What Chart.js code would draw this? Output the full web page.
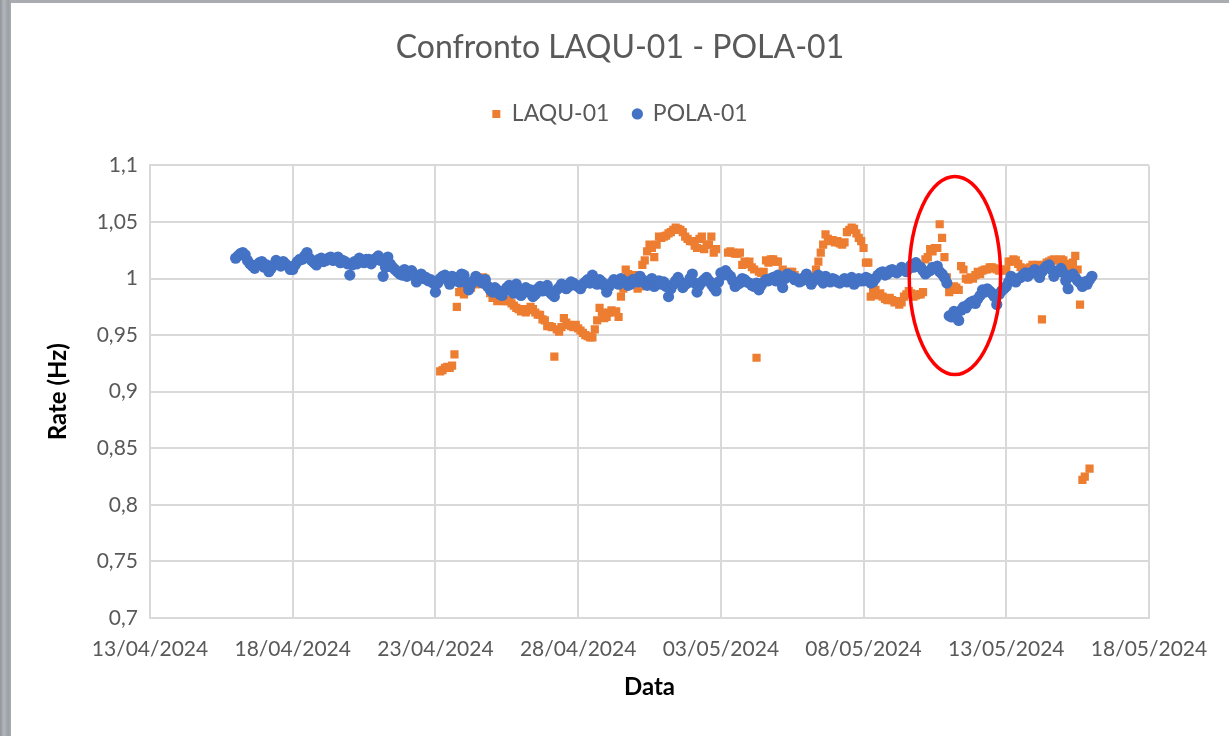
<!DOCTYPE html>
<html>
<head>
<meta charset="utf-8">
<title>Confronto LAQU-01 - POLA-01</title>
<script src="https://cdn.jsdelivr.net/npm/chart.js@4.4.1/dist/chart.umd.min.js"></script>
<style>
  html, body { margin: 0; padding: 0; }
  body {
    width: 1229px; height: 736px; overflow: hidden; position: relative;
    background: linear-gradient(90deg, #8f959b 0px, #b3b7bb 4px, #9aa0a5 8px, #a9adb1 11px);
  }
  #card { position: absolute; left: 11px; top: 3px; width: 1218px; height: 733px; background: #fff; }
</style>
</head>
<body>
<div id="card"><canvas id="chart" width="1218" height="733"></canvas></div>
<script>
// x axis = days since 13/04/2024 00:00
const xMin = 0;
const xMax = 35;
const xStep = 5;
const yMin = 0.7;
const yMax = 1.1;
const yStep = 0.05;

// one sample every 2 hours
const sampleHours = 2;

// POLA-01, from 16/04/2024 00:00 (one row per day)
const polaStartDay = 3;
const polaValues = [
  1.018, 1.020, 1.022, 1.023, 1.021, 1.016, 1.013, 1.011, 1.009, 1.012, 1.014, 1.015,
  1.010, 1.012, 1.006, 1.009, 1.012, 1.016, 1.014, 1.011, 1.015, 1.013, 1.011, 1.008,
  1.008, 1.012, 1.015, 1.017, 1.017, 1.020, 1.023, 1.018, 1.016, 1.014, 1.012, 1.017,
  1.018, 1.015, 1.016, 1.018, 1.019, 1.016, 1.017, 1.019, 1.014, 1.016, 1.015, 1.013,
  1.003, 1.012, 1.015, 1.013, 1.018, 1.016, 1.014, 1.017, 1.017, 1.013, 1.016, 1.018,
  1.020, 1.016, 1.002, 1.010, 1.019, 1.013, 1.010, 1.008, 1.006, 1.004, 1.003, 1.008,
  1.002, 1.005, 1.007, 1.003, 0.997, 1.001, 1.004, 1.000, 1.001, 0.998, 0.999, 0.996,
  0.988, 0.996, 1.000, 1.002, 1.003, 0.999, 0.995, 1.002, 1.001, 0.998, 0.997, 1.004,
  1.003, 0.996, 0.990, 0.995, 0.998, 1.002, 1.000, 0.997, 0.996, 0.999, 0.993, 0.990,
  0.988, 0.992, 0.990, 0.986, 0.985, 0.989, 0.992, 0.994, 0.989, 0.987, 0.995, 0.991,
  0.985, 0.989, 0.992, 0.988, 0.990, 0.984, 0.986, 0.991, 0.993, 0.989, 0.990, 0.994,
  0.988, 0.986, 0.984, 0.990, 0.992, 0.995, 0.994, 0.991, 0.993, 0.997, 0.996, 0.994,
  0.993, 0.991, 0.995, 0.997, 0.999, 0.996, 1.003, 0.998, 0.995, 0.999, 0.997, 0.994,
  0.988, 0.993, 0.996, 0.999, 0.998, 0.995, 1.000, 0.998, 0.997, 0.994, 0.995, 0.999,
  0.999, 0.997, 1.002, 0.999, 0.996, 0.994, 0.998, 1.000, 0.993, 0.996, 0.998, 0.995,
  0.997, 0.993, 0.984, 0.991, 0.995, 0.998, 1.001, 0.997, 0.992, 0.995, 0.996, 1.000,
  1.004, 0.996, 0.988, 0.994, 0.997, 0.999, 1.001, 0.998, 0.995, 0.992, 0.989, 0.997,
  1.005, 1.003, 1.007, 1.004, 1.002, 0.998, 0.993, 0.995, 0.996, 1.000, 0.999, 0.997,
  0.996, 0.994, 0.993, 0.996, 0.990, 0.994, 0.997, 0.999, 0.998, 1.000, 1.001, 0.998,
  1.003, 0.997, 0.992, 1.000, 1.004, 1.002, 1.002, 0.999, 1.000, 0.997, 0.998, 1.001,
  1.004, 0.999, 0.995, 0.998, 1.001, 1.003, 0.999, 0.996, 1.002, 0.999, 0.997, 1.000,
  0.999, 0.997, 0.996, 0.998, 1.000, 0.997, 0.998, 1.001, 0.995, 0.997, 1.000, 0.998,
  0.998, 1.001, 1.000, 0.996, 0.997, 1.000, 1.003, 1.005, 1.006, 1.003, 1.004, 1.007,
  1.008, 1.006, 1.005, 1.007, 1.010, 1.008, 1.006, 1.009, 1.012, 1.010, 1.014, 1.011,
  1.010, 1.007, 1.004, 1.006, 1.007, 1.010, 1.009, 1.011, 1.006, 1.004, 1.001, 0.996,
  0.967, 0.966, 0.971, 0.969, 0.963, 0.972, 0.975, 0.974, 0.977, 0.979, 0.980, 0.978,
  0.982, 0.985, 0.990, 0.988, 0.991, 0.989, 0.987, 0.984, 0.977, 0.986, 0.989, 0.991,
  0.993, 0.997, 1.002, 0.999, 0.997, 1.000, 1.001, 1.003, 1.005, 1.002, 1.004, 1.006,
  1.008, 1.005, 1.001, 1.006, 1.009, 1.011, 1.012, 1.008, 1.002, 1.005, 1.007, 1.009,
  1.005, 0.998, 0.991, 1.002, 1.004, 1.001, 0.998, 0.996, 0.993, 0.997, 0.995, 0.999,
  1.002
];

// LAQU-01, from 23/04/2024 04:00 (null = no sample)
const laquStartDay = 10 + 4 / 24;
const laquValues = [
  0.918, 0.919, 0.921, 0.922, 0.921, 0.923, 0.933, 0.975, 0.988, 0.990,
  0.986, 0.989, 0.997, 0.992, 0.998, 0.995, 0.995, 0.998, 1.001, 1.000, 0.993, 0.987,
  0.983, 0.985, 0.980, 0.982, 0.982, 0.980, 0.980, 0.981, 0.978, 0.976, 0.974, 0.973,
  0.971, 0.973, 0.970, 0.972, 0.975, 0.973, 0.970, 0.968, 0.968, 0.964, 0.963, 0.958,
  0.958, 0.957, 0.931, 0.955, 0.953, 0.957, 0.965, 0.961, 0.959, 0.958, 0.957, 0.959,
  0.956, 0.954, 0.952, 0.950, 0.949, 0.948, 0.948, 0.955, 0.963, 0.974, 0.970, 0.965,
  0.966, 0.970, 0.972, 0.970, 0.971, 0.966, 0.984, 0.991, 1.008, 1.004, 1.001, 1.003,
  1.003, 0.991, 0.993, 1.012, 1.016, 1.024, 1.030, 1.027, 1.019, 1.030, 1.037, 1.036,
  1.037, 1.038, 1.040, 1.041, 1.043, 1.045, 1.044, 1.043, 1.041, 1.037, 1.035, 1.033,
  1.033, 1.029, 1.027, 1.035, 1.037, 1.026, 1.030, 1.030, 1.037, 1.023, 1.026, null,
  null, null, null, 1.023, 1.024, 1.023, 1.022, 1.022, 1.023, 1.012, 1.015, 1.013,
  1.015, 1.010, 1.008, 0.930, 1.006, 1.005, 1.006, 1.016, 1.014, 1.017, 1.017, 1.015,
  1.015, 0.999, 1.008, 1.002, 1.004, 1.006, 1.006, 1.003, 0.998, 0.999, 0.998, 0.999,
  0.999, 0.998, 0.997, 1.002, 1.008, 1.015, 1.023, 1.030, 1.039, 1.035, 1.033, 1.034,
  1.032, 1.033, 1.031, 1.030, 1.032, 1.041, 1.043, 1.045, 1.044, 1.040, 1.036, 1.033,
  1.027, 1.014, 1.014, 0.984, 0.988, 0.990, 0.985, 0.987, 0.984, 0.982, 0.981, 0.983,
  0.981, 0.979, 0.980, 0.977, 0.979, 0.984, 0.986, 0.989, 0.987, 0.984, 0.985, 0.986,
  0.986, 0.988, 1.017, 1.019, 1.026, 1.024, 1.027, 1.027, 1.048, 1.036, 1.019, 1.001,
  0.988, 0.990, 0.993, 0.992, 0.990, 1.011, 1.008, 1.000, 0.999, 1.001, 1.000, 1.003,
  1.006, 1.004, 1.007, 1.008, 1.008, 1.010, 1.010, 1.009, 1.008, 1.007, 1.008, 1.007,
  1.008, 1.015, 1.015, 1.017, 1.016, 1.013, 1.010, 1.008, 1.008, 1.009, 1.010, 1.012,
  1.011, 1.012, 1.011, 0.964, 1.012, 1.014, 1.015, 1.016, 1.017, 1.016, 1.016, 1.017,
  1.016, 1.013, 1.012, 1.010, 1.014, 1.020, 1.008, 0.977, 0.822, 0.825, null, 0.832
];

// red ellipse drawn on the chart: centre (day, value) and radii
const ellipseCenter = [28.2, 1.0027];
const ellipseRadius = [1.6, 0.0876];

const baseDate = new Date(2024, 3, 13);

function toPoints(start, values) {
  const pts = [];
  values.forEach((v, i) => {
    if (v !== null) pts.push({ x: start + i * sampleHours / 24, y: v });
  });
  return pts;
}

function dayLabel(value) {
  const d = new Date(baseDate.getFullYear(), baseDate.getMonth(), baseDate.getDate() + value);
  const dd = String(d.getDate()).padStart(2, '0');
  const mm = String(d.getMonth() + 1).padStart(2, '0');
  return dd + '/' + mm + '/' + d.getFullYear();
}

const ellipsePlugin = {
  id: 'redEllipse',
  afterDatasetsDraw(chart) {
    const { ctx, scales: { x, y } } = chart;
    const cx = x.getPixelForValue(ellipseCenter[0]);
    const cy = y.getPixelForValue(ellipseCenter[1]);
    const rx = Math.abs(x.getPixelForValue(ellipseCenter[0] + ellipseRadius[0]) - cx);
    const ry = Math.abs(y.getPixelForValue(ellipseCenter[1] + ellipseRadius[1]) - cy);
    ctx.save();
    ctx.beginPath();
    ctx.ellipse(cx, cy, rx, ry, 0, 0, Math.PI * 2);
    ctx.strokeStyle = '#ff0000';
    ctx.lineWidth = 3.5;
    ctx.stroke();
    ctx.restore();
  }
};

// extra room between legend and plot area
const legendGap = 30;
const legendSpacer = {
  id: 'legendSpacer',
  beforeInit(chart) {
    const fit = chart.legend.fit;
    chart.legend.fit = function () {
      fit.call(this);
      this.height += legendGap;
    };
  }
};

Chart.defaults.font.family = 'Lato, "Open Sans", sans-serif';
Chart.defaults.color = '#595959';

const gridColor = '#d9d9d9';

new Chart(document.getElementById('chart'), {
  type: 'scatter',
  data: {
    datasets: [
      {
        label: 'LAQU-01',
        data: toPoints(laquStartDay, laquValues),
        pointStyle: 'rect',
        pointRadius: 5.8,
        backgroundColor: '#ED7D31',
        borderColor: '#ED7D31',
        borderWidth: 0,
        order: 2
      },
      {
        label: 'POLA-01',
        data: toPoints(polaStartDay, polaValues),
        pointStyle: 'circle',
        pointRadius: 5.6,
        backgroundColor: '#4472C4',
        borderColor: '#4472C4',
        borderWidth: 0,
        order: 1
      }
    ]
  },
  options: {
    responsive: false,
    animation: false,
    events: [],
    layout: { padding: 0 },
    plugins: {
      title: {
        display: true,
        text: 'Confronto LAQU-01 - POLA-01',
        color: '#595959',
        font: { size: 32, weight: 'normal' },
        padding: { top: 25, bottom: 12 }
      },
      legend: {
        display: true,
        labels: {
          usePointStyle: true,
          boxWidth: 8,
          boxHeight: 8,
          padding: 24,
          color: '#595959',
          font: { size: 23 },
          sort: (a, b) => a.datasetIndex - b.datasetIndex
        }
      },
      tooltip: { enabled: false }
    },
    scales: {
      x: {
        type: 'linear',
        min: xMin,
        max: xMax,
        afterFit: s => { s.height = 118; },
        ticks: {
          stepSize: xStep,
          padding: 19,
          color: '#595959',
          font: { size: 21 },
          maxRotation: 0,
          callback: v => dayLabel(v)
        },
        grid: { color: gridColor, lineWidth: 2, drawTicks: false },
        border: { color: gridColor, width: 2 },
        title: {
          display: true,
          text: 'Data',
          color: '#000',
          font: { size: 24, weight: 'bold' },
          padding: { top: 0, bottom: 34 }
        }
      },
      y: {
        min: yMin,
        max: yMax,
        afterFit: s => { s.width = 139; },
        ticks: {
          stepSize: yStep,
          padding: 12,
          color: '#595959',
          font: { size: 21 },
          callback: v => String(Number(v.toFixed(2))).replace('.', ',')
        },
        grid: { color: gridColor, lineWidth: 2, drawTicks: false },
        border: { color: gridColor, width: 2 },
        title: {
          display: true,
          text: 'Rate (Hz)',
          color: '#000',
          font: { size: 24, weight: 'bold' },
          padding: { top: 33, bottom: 0 }
        }
      },
      // empty right-hand box that keeps the plot narrower than the canvas
      yRight: {
        position: 'right',
        min: yMin,
        max: yMax,
        afterFit: s => { s.width = 80; },
        grid: { display: false },
        ticks: { display: false },
        border: { display: false }
      }
    }
  },
  plugins: [ellipsePlugin, legendSpacer]
});
</script>
</body>
</html>
